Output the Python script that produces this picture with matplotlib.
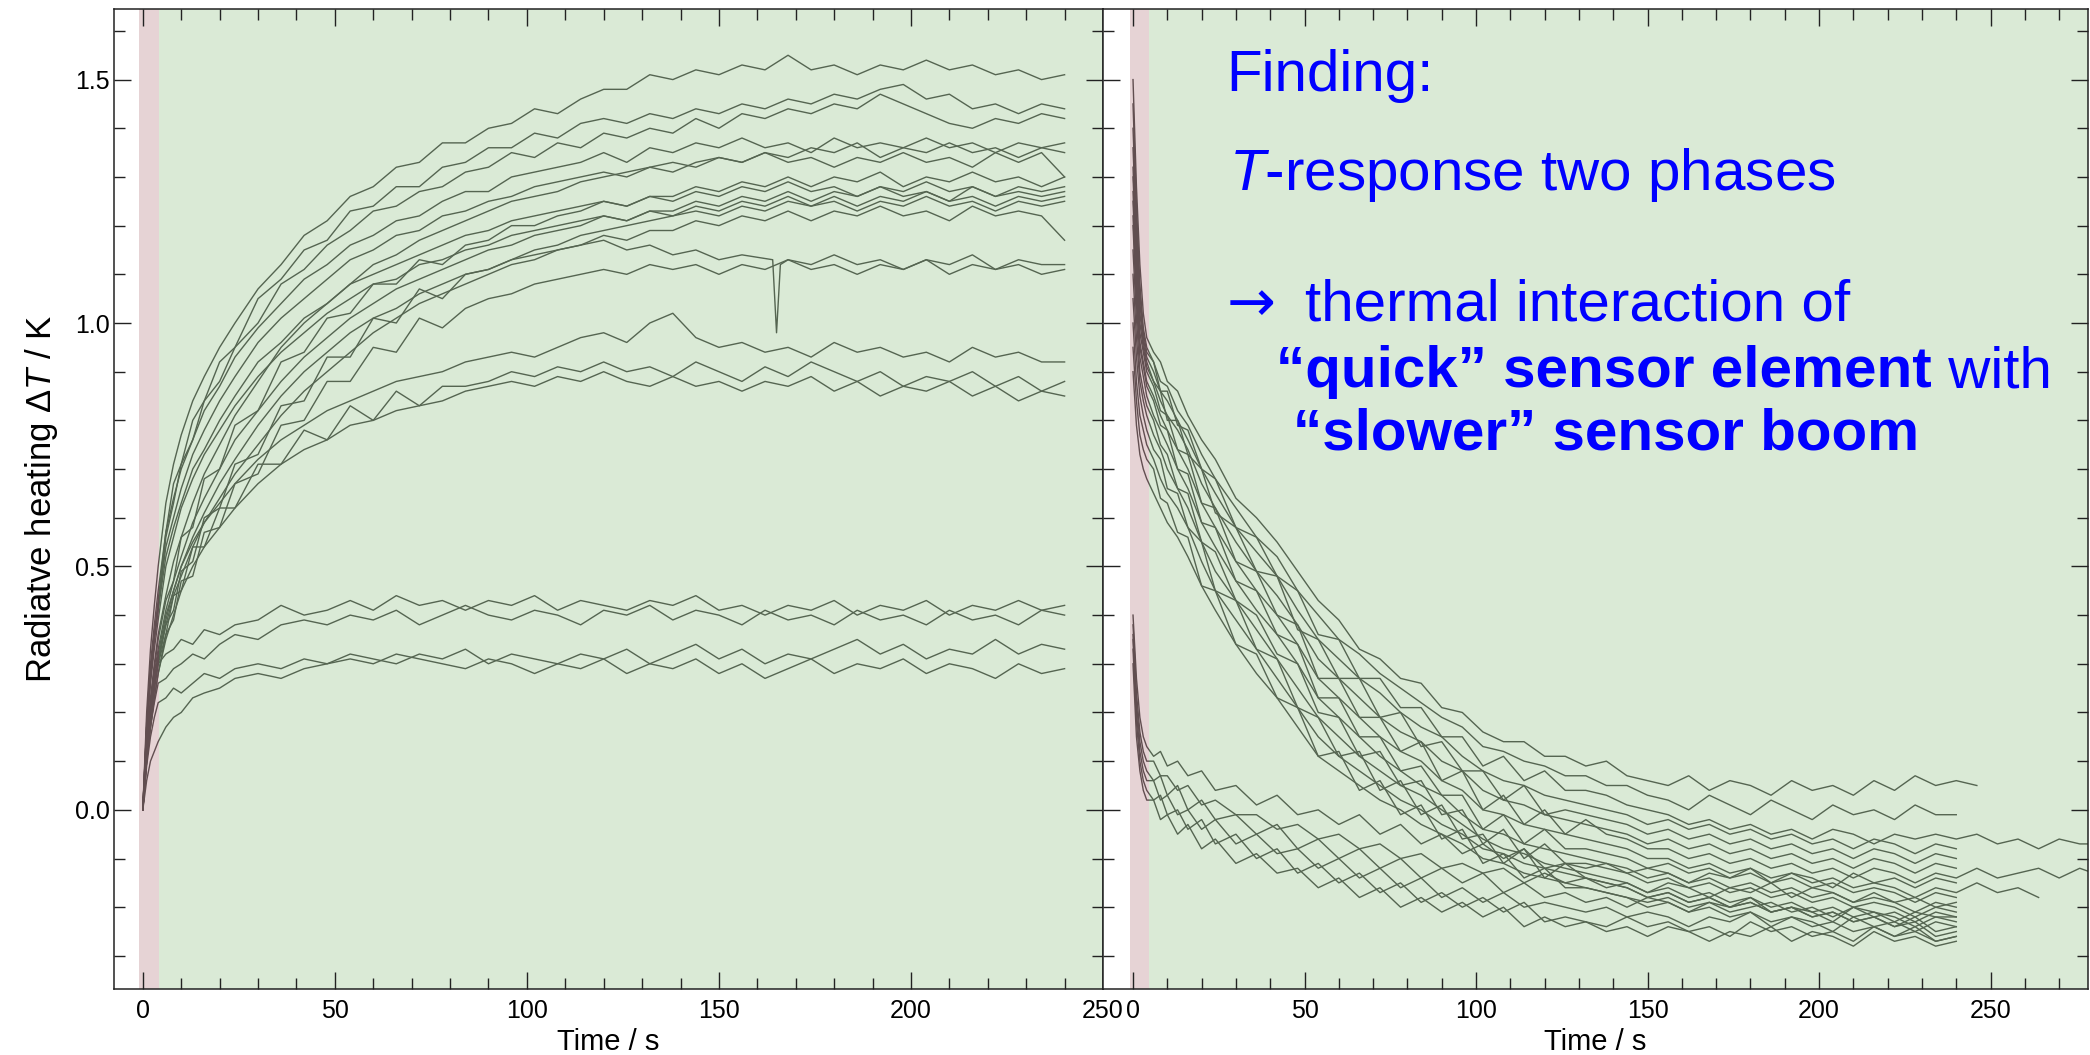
import matplotlib
matplotlib.use('Agg')
import matplotlib.pyplot as plt
from matplotlib.ticker import MultipleLocator

plt.rcParams['font.family'] = ['Liberation Sans', 'DejaVu Sans']
plt.rcParams['mathtext.fontset'] = 'custom'
plt.rcParams['mathtext.rm'] = 'Liberation Sans'
plt.rcParams['mathtext.it'] = 'Liberation Sans:italic'
plt.rcParams['mathtext.bf'] = 'Liberation Sans:bold'

# ────────────────────────────────
# Time grid (s)

t_heat = [0, 1, 2, 3, 4, 6, 8, 10, 13, 16, 20, 24, 30, 36, 42, 48, 54, 60, 66, 72, 78, 84,
          90, 96, 102, 108, 114, 120, 126, 132, 138, 144, 150, 156, 162, 168, 174, 180,
          186, 192, 198, 204, 210, 216, 222, 228, 234, 240]
t_cool = t_heat + [246, 252, 258, 264, 270, 276, 280]
# one curve has a single-sample dropout near 165 s
t_h13 = t_heat[:34] + [164, 165, 166] + t_heat[35:]

# ────────────────────────────────
# Left panel: heating curves (K)

h01 = [0, 0.20, 0.33, 0.42, 0.50, 0.63, 0.71, 0.77, 0.84, 0.89, 0.95, 1.00, 1.07, 1.12, 1.18,
       1.21, 1.26, 1.28, 1.32, 1.33, 1.37, 1.37, 1.40, 1.41, 1.44, 1.43, 1.46, 1.48, 1.48, 1.51,
       1.50, 1.52, 1.51, 1.53, 1.52, 1.55, 1.52, 1.53, 1.51, 1.53, 1.52, 1.54, 1.52, 1.53, 1.51,
       1.52, 1.50, 1.51]
h02 = [0, 0.17, 0.28, 0.36, 0.43, 0.57, 0.67, 0.71, 0.80, 0.84, 0.92, 0.95, 1.05, 1.09, 1.15,
       1.17, 1.23, 1.24, 1.28, 1.28, 1.32, 1.33, 1.36, 1.36, 1.39, 1.38, 1.41, 1.42, 1.41, 1.43,
       1.42, 1.44, 1.43, 1.45, 1.44, 1.46, 1.45, 1.47, 1.46, 1.48, 1.49, 1.46, 1.47, 1.44, 1.45,
       1.43, 1.45, 1.44]
h03 = [0, 0.16, 0.27, 0.35, 0.41, 0.56, 0.63, 0.71, 0.76, 0.84, 0.88, 0.95, 1.00, 1.08, 1.11,
       1.16, 1.19, 1.23, 1.24, 1.27, 1.28, 1.31, 1.32, 1.35, 1.34, 1.37, 1.36, 1.39, 1.38, 1.40,
       1.39, 1.42, 1.40, 1.43, 1.42, 1.44, 1.43, 1.45, 1.44, 1.47, 1.45, 1.43, 1.41, 1.40, 1.42,
       1.41, 1.43, 1.42]
h04 = [0, 0.18, 0.30, 0.38, 0.45, 0.57, 0.64, 0.70, 0.76, 0.82, 0.87, 0.93, 0.99, 1.04, 1.09,
       1.12, 1.16, 1.18, 1.21, 1.22, 1.25, 1.27, 1.27, 1.30, 1.31, 1.32, 1.33, 1.35, 1.33, 1.36,
       1.35, 1.37, 1.36, 1.38, 1.36, 1.37, 1.35, 1.38, 1.36, 1.37, 1.36, 1.38, 1.36, 1.37, 1.35,
       1.37, 1.36, 1.37]
h05 = [0, 0.14, 0.23, 0.30, 0.36, 0.44, 0.51, 0.56, 0.63, 0.69, 0.75, 0.81, 0.88, 0.95, 1.00,
       1.04, 1.08, 1.12, 1.14, 1.17, 1.19, 1.21, 1.23, 1.25, 1.26, 1.27, 1.29, 1.30, 1.31, 1.32,
       1.31, 1.33, 1.34, 1.33, 1.35, 1.34, 1.36, 1.35, 1.37, 1.34, 1.36, 1.35, 1.37, 1.35, 1.36,
       1.34, 1.36, 1.35]
h06 = [0, 0.17, 0.28, 0.36, 0.42, 0.54, 0.60, 0.66, 0.73, 0.78, 0.84, 0.89, 0.96, 1.01, 1.05,
       1.09, 1.13, 1.15, 1.18, 1.19, 1.22, 1.23, 1.25, 1.26, 1.28, 1.29, 1.30, 1.31, 1.30, 1.32,
       1.33, 1.32, 1.34, 1.33, 1.35, 1.33, 1.34, 1.32, 1.34, 1.33, 1.35, 1.33, 1.34, 1.32, 1.35,
       1.33, 1.35, 1.30]
h07 = [0, 0.13, 0.22, 0.29, 0.35, 0.43, 0.47, 0.56, 0.58, 0.68, 0.70, 0.79, 0.82, 0.92, 0.94,
       1.01, 1.02, 1.08, 1.08, 1.13, 1.12, 1.16, 1.17, 1.20, 1.20, 1.22, 1.23, 1.25, 1.24, 1.26,
       1.26, 1.28, 1.27, 1.29, 1.28, 1.30, 1.28, 1.30, 1.29, 1.31, 1.28, 1.30, 1.29, 1.31, 1.29,
       1.30, 1.28, 1.30]
h08 = [0, 0.17, 0.27, 0.35, 0.41, 0.52, 0.58, 0.63, 0.70, 0.74, 0.80, 0.85, 0.92, 0.96, 1.01,
       1.04, 1.08, 1.10, 1.12, 1.14, 1.16, 1.18, 1.19, 1.21, 1.22, 1.23, 1.24, 1.25, 1.24, 1.26,
       1.25, 1.27, 1.26, 1.28, 1.27, 1.29, 1.27, 1.28, 1.26, 1.28, 1.27, 1.29, 1.27, 1.28, 1.26,
       1.28, 1.27, 1.28]
h09 = [0, 0.12, 0.21, 0.28, 0.33, 0.41, 0.47, 0.52, 0.59, 0.64, 0.70, 0.76, 0.82, 0.88, 0.93,
       0.97, 1.01, 1.04, 1.07, 1.09, 1.11, 1.13, 1.15, 1.16, 1.18, 1.19, 1.20, 1.22, 1.21, 1.23,
       1.23, 1.25, 1.24, 1.26, 1.25, 1.27, 1.25, 1.27, 1.26, 1.28, 1.26, 1.27, 1.25, 1.28, 1.26,
       1.27, 1.26, 1.27]
h10 = [0, 0.11, 0.19, 0.25, 0.30, 0.38, 0.41, 0.49, 0.51, 0.60, 0.62, 0.71, 0.73, 0.83, 0.84,
       0.93, 0.93, 1.01, 1.00, 1.07, 1.05, 1.10, 1.11, 1.13, 1.15, 1.16, 1.18, 1.19, 1.20, 1.21,
       1.22, 1.23, 1.22, 1.24, 1.23, 1.25, 1.24, 1.26, 1.24, 1.26, 1.25, 1.27, 1.25, 1.26, 1.24,
       1.26, 1.25, 1.26]
h11 = [0, 0.16, 0.26, 0.33, 0.39, 0.50, 0.56, 0.62, 0.68, 0.73, 0.78, 0.83, 0.89, 0.94, 0.98,
       1.02, 1.05, 1.08, 1.09, 1.12, 1.13, 1.15, 1.16, 1.18, 1.19, 1.20, 1.21, 1.22, 1.21, 1.23,
       1.22, 1.24, 1.23, 1.25, 1.24, 1.26, 1.24, 1.25, 1.23, 1.25, 1.24, 1.26, 1.24, 1.25, 1.23,
       1.25, 1.24, 1.25]
h12 = [0, 0.11, 0.19, 0.25, 0.31, 0.39, 0.45, 0.50, 0.56, 0.61, 0.67, 0.72, 0.79, 0.85, 0.90,
       0.94, 0.98, 1.01, 1.03, 1.06, 1.08, 1.10, 1.11, 1.13, 1.14, 1.15, 1.16, 1.18, 1.17, 1.19,
       1.19, 1.21, 1.20, 1.22, 1.21, 1.23, 1.21, 1.23, 1.22, 1.24, 1.22, 1.23, 1.21, 1.24, 1.22,
       1.23, 1.22, 1.17]
h13 = [0, 0.12, 0.20, 0.26, 0.31, 0.38, 0.44, 0.48, 0.54, 0.59, 0.64, 0.69, 0.75, 0.81, 0.86,
       0.90, 0.94, 0.98, 1.01, 1.04, 1.06, 1.08, 1.10, 1.12, 1.13, 1.15, 1.16, 1.17, 1.15, 1.16,
       1.14, 1.15, 1.13, 1.14, 1.13, 0.98, 1.12, 1.13, 1.12, 1.14, 1.12, 1.13, 1.11, 1.13, 1.12,
       1.14, 1.11, 1.13, 1.12, 1.12]
h14 = [0, 0.10, 0.17, 0.23, 0.28, 0.36, 0.39, 0.47, 0.48, 0.57, 0.58, 0.67, 0.69, 0.79, 0.80,
       0.88, 0.88, 0.95, 0.94, 1.01, 0.99, 1.03, 1.05, 1.06, 1.08, 1.09, 1.10, 1.11, 1.10, 1.12,
       1.11, 1.12, 1.10, 1.12, 1.11, 1.13, 1.11, 1.12, 1.10, 1.12, 1.11, 1.13, 1.10, 1.12, 1.11,
       1.12, 1.10, 1.11]
h15 = [0, 0.12, 0.20, 0.27, 0.32, 0.40, 0.45, 0.50, 0.55, 0.59, 0.63, 0.67, 0.72, 0.76, 0.79,
       0.82, 0.84, 0.86, 0.88, 0.89, 0.90, 0.92, 0.93, 0.94, 0.93, 0.95, 0.97, 0.98, 0.96, 1.00,
       1.02, 0.97, 0.95, 0.96, 0.94, 0.95, 0.93, 0.96, 0.94, 0.95, 0.93, 0.94, 0.92, 0.95, 0.93,
       0.94, 0.92, 0.92]
h16 = [0, 0.11, 0.19, 0.25, 0.30, 0.36, 0.44, 0.45, 0.54, 0.54, 0.62, 0.62, 0.71, 0.71, 0.78,
       0.76, 0.83, 0.80, 0.86, 0.83, 0.87, 0.87, 0.88, 0.90, 0.89, 0.91, 0.90, 0.92, 0.90, 0.91,
       0.89, 0.92, 0.90, 0.88, 0.91, 0.89, 0.92, 0.90, 0.88, 0.90, 0.87, 0.89, 0.88, 0.90, 0.87,
       0.89, 0.86, 0.88]
h17 = [0, 0.10, 0.17, 0.23, 0.28, 0.35, 0.40, 0.45, 0.50, 0.54, 0.58, 0.62, 0.67, 0.71, 0.74,
       0.76, 0.79, 0.80, 0.82, 0.83, 0.84, 0.86, 0.87, 0.88, 0.87, 0.89, 0.88, 0.90, 0.88, 0.87,
       0.89, 0.87, 0.88, 0.86, 0.88, 0.87, 0.89, 0.86, 0.88, 0.85, 0.87, 0.86, 0.88, 0.85, 0.87,
       0.84, 0.86, 0.85]
h18 = [0, 0.12, 0.20, 0.26, 0.30, 0.32, 0.33, 0.35, 0.34, 0.37, 0.36, 0.38, 0.39, 0.42, 0.40,
       0.41, 0.43, 0.41, 0.44, 0.42, 0.43, 0.41, 0.43, 0.42, 0.44, 0.41, 0.43, 0.42, 0.41, 0.43,
       0.42, 0.44, 0.41, 0.42, 0.40, 0.42, 0.41, 0.43, 0.40, 0.42, 0.41, 0.43, 0.40, 0.42, 0.41,
       0.43, 0.41, 0.42]
h19 = [0, 0.10, 0.17, 0.22, 0.26, 0.27, 0.29, 0.30, 0.32, 0.31, 0.34, 0.36, 0.35, 0.38, 0.39,
       0.38, 0.40, 0.39, 0.41, 0.38, 0.40, 0.42, 0.40, 0.39, 0.41, 0.40, 0.38, 0.41, 0.40, 0.42,
       0.39, 0.41, 0.40, 0.38, 0.41, 0.39, 0.40, 0.38, 0.41, 0.39, 0.40, 0.38, 0.41, 0.39, 0.40,
       0.38, 0.41, 0.40]
h20 = [0, 0.09, 0.15, 0.19, 0.22, 0.23, 0.25, 0.24, 0.26, 0.28, 0.27, 0.29, 0.30, 0.29, 0.31,
       0.30, 0.32, 0.31, 0.30, 0.32, 0.31, 0.33, 0.30, 0.32, 0.31, 0.30, 0.32, 0.31, 0.33, 0.30,
       0.32, 0.34, 0.31, 0.33, 0.30, 0.32, 0.31, 0.33, 0.35, 0.32, 0.34, 0.31, 0.33, 0.32, 0.35,
       0.32, 0.34, 0.33]
h21 = [0, 0.06, 0.10, 0.12, 0.14, 0.17, 0.19, 0.20, 0.23, 0.24, 0.25, 0.27, 0.28, 0.27, 0.29,
       0.30, 0.31, 0.30, 0.32, 0.31, 0.30, 0.29, 0.31, 0.30, 0.28, 0.30, 0.29, 0.31, 0.28, 0.30,
       0.29, 0.31, 0.28, 0.30, 0.27, 0.29, 0.31, 0.28, 0.30, 0.29, 0.31, 0.28, 0.30, 0.29, 0.27,
       0.30, 0.28, 0.29]

heating = [(t_heat, h01), (t_heat, h02), (t_heat, h03), (t_heat, h04), (t_heat, h05),
           (t_heat, h06), (t_heat, h07), (t_heat, h08), (t_heat, h09), (t_heat, h10),
           (t_heat, h11), (t_heat, h12), (t_h13, h13), (t_heat, h14), (t_heat, h15),
           (t_heat, h16), (t_heat, h17), (t_heat, h18), (t_heat, h19), (t_heat, h20),
           (t_heat, h21)]

# ────────────────────────────────
# Right panel: cooling curves (K)

c01 = [1.50, 1.28, 1.12, 1.02, 0.97, 0.94, 0.92, 0.88, 0.86, 0.81, 0.76, 0.72, 0.64, 0.60, 0.55,
       0.49, 0.43, 0.39, 0.33, 0.31, 0.27, 0.26, 0.21, 0.20, 0.16, 0.14, 0.14, 0.11, 0.11, 0.09,
       0.10, 0.07, 0.06, 0.05, 0.07, 0.04, 0.06, 0.05, 0.03, 0.06, 0.04, 0.05, 0.03, 0.06, 0.04,
       0.07, 0.05, 0.06, 0.05]
c02 = [1.45, 1.24, 1.08, 0.99, 0.95, 0.92, 0.88, 0.87, 0.82, 0.79, 0.73, 0.68, 0.62, 0.56, 0.52,
       0.45, 0.40, 0.35, 0.32, 0.28, 0.25, 0.22, 0.19, 0.17, 0.13, 0.12, 0.10, 0.09, 0.07, 0.07,
       0.05, 0.05, 0.03, 0.02, 0.00, 0.03, 0.01, -0.01, 0.02, 0.00, -0.02, 0.01, -0.01, 0.00, -0.02,
       0.01, -0.01, -0.01]
c03 = [1.40, 1.21, 1.06, 0.98, 0.94, 0.92, 0.86, 0.86, 0.79, 0.78, 0.70, 0.68, 0.58, 0.56, 0.48,
       0.45, 0.36, 0.35, 0.27, 0.27, 0.21, 0.21, 0.15, 0.15, 0.09, 0.11, 0.06, 0.08, 0.04, 0.04,
       0.03, 0.01, 0.00, -0.01, -0.03, -0.02, -0.04, -0.03, -0.05, -0.04, -0.06, -0.04, -0.05, -0.07,
       -0.05, -0.06, -0.05, -0.06,
       -0.05, -0.07, -0.06, -0.08, -0.06, -0.07, -0.07]
c04 = [1.36, 1.18, 1.04, 0.97, 0.93, 0.90, 0.86, 0.84, 0.80, 0.76, 0.70, 0.65, 0.58, 0.53, 0.48,
       0.41, 0.35, 0.31, 0.27, 0.24, 0.20, 0.17, 0.15, 0.11, 0.08, 0.06, 0.05, 0.03, 0.02, 0.01,
       0.00, -0.01, -0.03, -0.02, -0.04, -0.03, -0.05, -0.04, -0.06, -0.05, -0.07, -0.06, -0.08,
       -0.06, -0.07, -0.09, -0.07, -0.08]
c05 = [1.32, 1.15, 1.02, 0.96, 0.92, 0.88, 0.86, 0.80, 0.80, 0.73, 0.70, 0.61, 0.58, 0.49, 0.48,
       0.37, 0.35, 0.27, 0.27, 0.19, 0.20, 0.13, 0.14, 0.08, 0.08, 0.02, 0.05, -0.01, 0.00, -0.01,
       -0.02, -0.03, -0.05, -0.04, -0.06, -0.05, -0.07, -0.06, -0.08, -0.07, -0.09, -0.08, -0.10,
       -0.08, -0.09, -0.11, -0.09, -0.10]
c06 = [1.30, 1.13, 1.00, 0.95, 0.91, 0.88, 0.84, 0.81, 0.78, 0.74, 0.67, 0.62, 0.55, 0.49, 0.44,
       0.38, 0.31, 0.27, 0.23, 0.19, 0.16, 0.14, 0.10, 0.08, 0.04, 0.02, 0.01, -0.01, -0.02, -0.03,
       -0.04, -0.05, -0.07, -0.06, -0.08, -0.07, -0.09, -0.08, -0.10, -0.09, -0.11, -0.10, -0.12,
       -0.10, -0.11, -0.13, -0.11, -0.12]
c07 = [1.27, 1.10, 0.98, 0.94, 0.90, 0.87, 0.82, 0.81, 0.74, 0.73, 0.63, 0.62, 0.51, 0.49, 0.40,
       0.38, 0.27, 0.27, 0.19, 0.19, 0.12, 0.14, 0.06, 0.08, 0.00, 0.03, -0.03, 0.00, -0.05, -0.02,
       -0.05, -0.06, -0.08, -0.08, -0.10, -0.09, -0.11, -0.10, -0.12, -0.11, -0.13, -0.12, -0.14,
       -0.12, -0.13, -0.15, -0.13, -0.14,
       -0.12, -0.14, -0.13, -0.12, -0.14, -0.12, -0.13]
c08 = [1.25, 1.08, 0.96, 0.92, 0.88, 0.85, 0.81, 0.78, 0.74, 0.70, 0.63, 0.58, 0.51, 0.45, 0.40,
       0.34, 0.27, 0.23, 0.19, 0.15, 0.12, 0.10, 0.06, 0.04, 0.00, -0.01, -0.03, -0.04, -0.05, -0.06,
       -0.07, -0.08, -0.10, -0.10, -0.12, -0.11, -0.13, -0.12, -0.14, -0.13, -0.15, -0.14, -0.16,
       -0.15, -0.16, -0.18, -0.16, -0.17,
       -0.15, -0.17, -0.16, -0.18]
c09 = [1.22, 1.06, 0.95, 0.91, 0.87, 0.84, 0.79, 0.78, 0.70, 0.69, 0.59, 0.58, 0.47, 0.45, 0.36,
       0.34, 0.23, 0.23, 0.15, 0.15, 0.08, 0.09, 0.03, 0.03, -0.04, -0.01, -0.07, -0.04, -0.08,
       -0.08, -0.09, -0.10, -0.12, -0.11, -0.13, -0.12, -0.14, -0.13, -0.15, -0.14, -0.16, -0.15,
       -0.17, -0.16, -0.17, -0.19, -0.17, -0.18]
c10 = [1.20, 1.04, 0.93, 0.89, 0.85, 0.81, 0.78, 0.75, 0.70, 0.66, 0.59, 0.54, 0.47, 0.41, 0.36,
       0.30, 0.23, 0.19, 0.15, 0.11, 0.08, 0.05, 0.03, -0.01, -0.04, -0.05, -0.07, -0.08, -0.09,
       -0.10, -0.11, -0.12, -0.14, -0.13, -0.15, -0.14, -0.16, -0.15, -0.17, -0.16, -0.18, -0.17,
       -0.19, -0.18, -0.19, -0.21, -0.19, -0.20]
c11 = [1.15, 1.01, 0.90, 0.86, 0.83, 0.80, 0.75, 0.73, 0.66, 0.65, 0.55, 0.53, 0.43, 0.40, 0.32,
       0.30, 0.20, 0.19, 0.11, 0.12, 0.05, 0.06, -0.01, 0.00, -0.07, -0.04, -0.10, -0.07, -0.11,
       -0.11, -0.12, -0.13, -0.15, -0.14, -0.16, -0.15, -0.17, -0.16, -0.18, -0.17, -0.19, -0.18,
       -0.20, -0.19, -0.20, -0.22, -0.20, -0.21]
c12 = [1.10, 0.97, 0.88, 0.84, 0.81, 0.77, 0.74, 0.70, 0.66, 0.62, 0.55, 0.49, 0.43, 0.37, 0.31,
       0.25, 0.19, 0.15, 0.11, 0.08, 0.05, 0.03, 0.00, -0.03, -0.06, -0.08, -0.09, -0.11, -0.12,
       -0.13, -0.14, -0.15, -0.17, -0.16, -0.18, -0.17, -0.19, -0.18, -0.20, -0.19, -0.21, -0.20,
       -0.22, -0.21, -0.22, -0.24, -0.22, -0.23]
c13 = [1.05, 0.93, 0.85, 0.81, 0.78, 0.74, 0.72, 0.66, 0.65, 0.58, 0.55, 0.45, 0.43, 0.33, 0.31,
       0.21, 0.19, 0.11, 0.12, 0.04, 0.06, -0.01, 0.01, -0.06, -0.05, -0.11, -0.08, -0.14, -0.11,
       -0.14, -0.15, -0.16, -0.18, -0.17, -0.19, -0.18, -0.20, -0.19, -0.21, -0.20, -0.22, -0.21,
       -0.23, -0.22, -0.24, -0.23, -0.26, -0.25]
c14 = [1.00, 0.88, 0.81, 0.78, 0.75, 0.72, 0.68, 0.65, 0.62, 0.58, 0.51, 0.45, 0.39, 0.33, 0.27,
       0.21, 0.15, 0.11, 0.08, 0.05, 0.02, 0.00, -0.03, -0.05, -0.08, -0.09, -0.11, -0.12, -0.13,
       -0.14, -0.15, -0.16, -0.18, -0.17, -0.19, -0.18, -0.20, -0.19, -0.21, -0.20, -0.22, -0.21,
       -0.23, -0.22, -0.24, -0.22, -0.25, -0.24]
c15 = [0.95, 0.84, 0.77, 0.74, 0.72, 0.70, 0.64, 0.63, 0.57, 0.56, 0.46, 0.45, 0.34, 0.32, 0.23,
       0.21, 0.11, 0.12, 0.04, 0.06, -0.01, 0.01, -0.06, -0.04, -0.11, -0.09, -0.14, -0.12, -0.16,
       -0.16, -0.17, -0.18, -0.20, -0.19, -0.21, -0.20, -0.22, -0.21, -0.23, -0.22, -0.24, -0.23,
       -0.25, -0.24, -0.26, -0.24, -0.27, -0.26]
c16 = [0.90, 0.79, 0.73, 0.70, 0.68, 0.65, 0.62, 0.59, 0.56, 0.52, 0.46, 0.41, 0.34, 0.28, 0.23,
       0.17, 0.11, 0.08, 0.05, 0.02, 0.00, -0.03, -0.05, -0.07, -0.10, -0.11, -0.13, -0.14, -0.15,
       -0.16, -0.17, -0.18, -0.19, -0.18, -0.20, -0.19, -0.21, -0.20, -0.19, -0.21, -0.20, -0.22,
       -0.20, -0.21, -0.23, -0.21, -0.22, -0.22]
c17 = [0.40, 0.27, 0.19, 0.15, 0.13, 0.11, 0.12, 0.09, 0.10, 0.07, 0.08, 0.04, 0.05, 0.01, 0.03,
       -0.01, 0.00, -0.03, -0.01, -0.05, -0.03, -0.07, -0.05, -0.09, -0.07, -0.10, -0.08, -0.12,
       -0.11, -0.12, -0.11, -0.13, -0.12, -0.13, -0.15, -0.13, -0.14, -0.12, -0.15, -0.13, -0.14,
       -0.16, -0.13, -0.15, -0.14, -0.16, -0.14, -0.15]
c18 = [0.38, 0.24, 0.16, 0.12, 0.10, 0.10, 0.07, 0.07, 0.04, 0.05, 0.01, 0.02, -0.01, -0.01, -0.04,
       -0.03, -0.06, -0.05, -0.08, -0.07, -0.10, -0.09, -0.12, -0.11, -0.13, -0.12, -0.15, -0.13,
       -0.15, -0.14, -0.16, -0.15, -0.17, -0.15, -0.16, -0.18, -0.16, -0.17, -0.15, -0.18, -0.16,
       -0.17, -0.19, -0.17, -0.19, -0.18, -0.20, -0.19]
c19 = [0.36, 0.22, 0.14, 0.10, 0.08, 0.06, 0.07, 0.03, 0.05, 0.00, 0.02, -0.02, -0.01, -0.05, -0.03,
       -0.08, -0.06, -0.10, -0.08, -0.12, -0.10, -0.14, -0.12, -0.15, -0.13, -0.17, -0.15, -0.18,
       -0.17, -0.19, -0.18, -0.20, -0.18, -0.19, -0.21, -0.19, -0.20, -0.18, -0.21, -0.20, -0.21,
       -0.23, -0.20, -0.22, -0.21, -0.23, -0.21, -0.22]
c20 = [0.35, 0.20, 0.12, 0.08, 0.06, 0.06, 0.02, 0.03, -0.01, 0.00, -0.04, -0.02, -0.07, -0.05, -0.09,
       -0.08, -0.12, -0.10, -0.14, -0.12, -0.16, -0.14, -0.18, -0.16, -0.19, -0.17, -0.20, -0.19,
       -0.20, -0.21, -0.20, -0.22, -0.21, -0.22, -0.24, -0.22, -0.23, -0.21, -0.24, -0.22, -0.23,
       -0.25, -0.22, -0.24, -0.23, -0.25, -0.23, -0.24]
c21 = [0.33, 0.18, 0.10, 0.06, 0.04, 0.02, 0.03, -0.01, 0.00, -0.04, -0.02, -0.07, -0.05, -0.10, -0.08,
       -0.13, -0.11, -0.15, -0.13, -0.17, -0.15, -0.19, -0.17, -0.20, -0.18, -0.21, -0.19, -0.23,
       -0.22, -0.23, -0.24, -0.22, -0.24, -0.23, -0.25, -0.24, -0.26, -0.23, -0.25, -0.24, -0.26,
       -0.25, -0.27, -0.24, -0.26, -0.25, -0.27, -0.26]
c22 = [0.30, 0.15, 0.08, 0.04, 0.02, 0.02, -0.02, -0.01, -0.05, -0.03, -0.08, -0.06, -0.11, -0.09, -0.13,
       -0.12, -0.16, -0.14, -0.18, -0.16, -0.20, -0.18, -0.21, -0.19, -0.22, -0.20, -0.24, -0.22,
       -0.24, -0.23, -0.25, -0.24, -0.26, -0.24, -0.25, -0.27, -0.25, -0.26, -0.24, -0.27, -0.25,
       -0.26, -0.28, -0.25, -0.27, -0.26, -0.28, -0.27]

cooling = [(t_cool, c) for c in (c01, c02, c03, c04, c05, c06, c07, c08, c09, c10, c11,
                                 c12, c13, c14, c15, c16, c17, c18, c19, c20, c21, c22)]

# ────────────────────────────────
# Colours: dark lines under a translucent tint, as in the scan

line_c = '#333333'
green_c = '#95c38a'
pink_c = '#b88187'
tint_a = 0.35
blue_c = '#0000ff'

W, H = 2090, 1055


def px_rect(x0, x1, ytop, ybot):
    return [x0 / W, 1 - ybot / H, (x1 - x0) / W, (ybot - ytop) / H]


def fx(x):
    return x / W


def fy(y):
    return 1 - y / H


def setaxes(a, curves, xlo, xhi, pink_hi):
    for t, v in curves:
        n = min(len(t), len(v))
        a.plot(t[:n], v[:n], color=line_c, lw=1.0, zorder=2)
    a.axvspan(-1.0, pink_hi, color=pink_c, alpha=tint_a, lw=0, zorder=3)
    a.axvspan(pink_hi, xhi + 5, color=green_c, alpha=tint_a, lw=0, zorder=3)
    a.set_xlim(xlo, xhi)
    a.set_ylim(-0.368, 1.645)
    a.xaxis.set_major_locator(MultipleLocator(50))
    a.xaxis.set_minor_locator(MultipleLocator(10))
    a.yaxis.set_major_locator(MultipleLocator(0.5))
    a.yaxis.set_minor_locator(MultipleLocator(0.1))
    a.tick_params(which='both', direction='in', top=True, right=True,
                  color='#222222', width=1.0)
    a.tick_params(which='major', length=12, labelsize=18)
    a.tick_params(axis='x', which='major', pad=7)
    a.tick_params(axis='y', which='major', pad=3)
    a.tick_params(which='minor', length=8)
    a.xaxis.set_zorder(4)
    a.yaxis.set_zorder(4)
    for s in a.spines.values():
        s.set_zorder(4)
        s.set_color('#222222')
        s.set_linewidth(1.1)
    a.set_xlabel('Time / s', fontsize=21, labelpad=4)


fig = plt.figure(figsize=(20.9, 10.55), dpi=100, facecolor='white')

axL = fig.add_axes(px_rect(114, 1103, 9, 989))
setaxes(axL, heating, -7.5, 250, 4.2)
axL.set_ylabel(r'Radiatve heating $\Delta T$ / K', fontsize=25, labelpad=11)

axR = fig.add_axes(px_rect(1103, 2088, 9, 989))
setaxes(axR, cooling, -8.75, 278.4, 4.7)
axR.tick_params(labelleft=False)

# ────────────────────────────────
# Annotation text (blue)

fs = 42
fig.text(fx(1226), fy(91), 'Finding:', fontsize=fs, color=blue_c, va='baseline')
fig.text(fx(1229), fy(190), r'$T$-response two phases', fontsize=fs, color=blue_c,
         va='baseline')
fig.text(fx(1227), fy(321), '\u2192', fontsize=fs, color=blue_c, va='baseline',
         family='DejaVu Sans')
fig.text(fx(1305), fy(321), 'thermal interaction of', fontsize=fs, color=blue_c,
         va='baseline')
q = fig.text(fx(1276), fy(387), '\u201cquick\u201d sensor element', fontsize=fs,
             color=blue_c, fontweight='bold', va='baseline')
axR.annotate(' with', xy=(1, 0), xycoords=q, va='bottom', ha='left',
             fontsize=fs, color=blue_c)
fig.text(fx(1293), fy(450), '\u201cslower\u201d sensor boom', fontsize=fs, color=blue_c,
         fontweight='bold', va='baseline')

fig.savefig('out.png', dpi=100)
